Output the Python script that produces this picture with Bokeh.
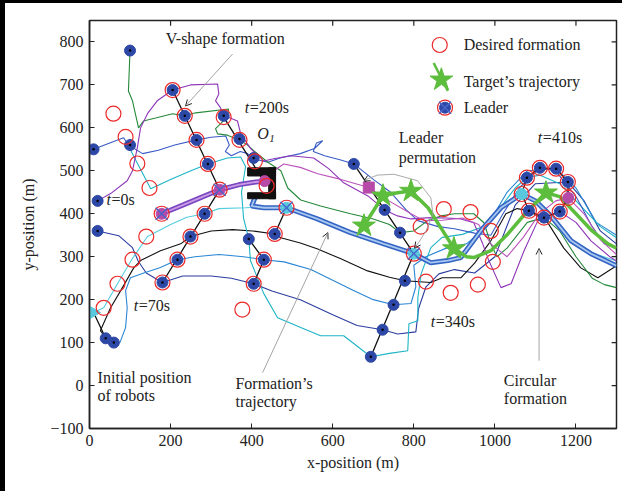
from bokeh.plotting import figure
from bokeh.models import Range1d, FixedTicker, Label, Arrow, OpenHead
from bokeh.embed import file_html
from bokeh.resources import INLINE

FONT = "Liberation Serif"

x_ticks = [0, 200, 400, 600, 800, 1000, 1200]
y_ticks = [-100, 0, 100, 200, 300, 400, 500, 600, 700, 800]

# ---------------- robot trajectories ----------------
purple_x = [20, 52, 93, 106, 118, 126, 143, 167, 205, 249, 316, 319, 311, 323, 333, 365, 373, 398, 430, 454, 496, 553, 590, 627, 689, 728, 760, 793, 842, 880, 916, 948, 970, 985, 1015, 1040, 1072, 1106, 1160, 1200, 1237, 1286, 1300]
purple_y = [430, 447, 477, 500, 554, 600, 633, 663, 688, 700, 702, 679, 663, 647, 628, 616, 586, 551, 523, 528, 535, 530, 505, 472, 440, 409, 395, 388, 391, 390, 388, 379, 330, 291, 228, 237, 314, 384, 405, 380, 337, 298, 290]

green_x = [100, 96, 106, 121, 133, 163, 205, 235, 262, 343, 340, 311, 316, 340, 370, 390, 405, 440, 472, 489, 521, 570, 644, 700, 740, 766, 800, 834, 867, 900, 948, 973, 990, 1005, 1030, 1080, 1121, 1160, 1200, 1240, 1270, 1300]
green_y = [780, 686, 663, 600, 616, 623, 633, 628, 635, 644, 625, 598, 586, 583, 572, 560, 547, 520, 500, 460, 432, 418, 400, 388, 375, 356, 360, 384, 395, 400, 400, 379, 330, 300, 320, 380, 391, 360, 300, 250, 235, 228]

blue_x = [10, 50, 84, 96, 131, 170, 210, 264, 300, 336, 345, 335, 350, 372, 390, 405, 440, 470, 520, 555, 575, 560, 552, 580, 620, 652, 700, 743, 780, 810, 860, 900, 950, 990, 1020, 1060, 1111, 1150, 1200, 1240, 1270, 1300]
blue_y = [550, 565, 577, 560, 540, 548, 560, 572, 578, 581, 560, 545, 535, 545, 540, 528, 520, 530, 540, 552, 570, 565, 545, 535, 525, 516, 480, 450, 410, 384, 370, 365, 355, 350, 400, 460, 507, 500, 440, 370, 330, 320]

cyan_x = [100, 103, 119, 151, 200, 250, 292, 340, 373, 385, 375, 380, 393, 397, 430, 464, 521, 570, 627, 694, 740, 785, 788, 810, 810, 818, 842, 870, 920, 970, 1010, 1050, 1079, 1110, 1160, 1210, 1260, 1300]
cyan_y = [560, 545, 516, 458, 480, 500, 516, 530, 532, 510, 450, 390, 341, 291, 214, 158, 135, 116, 116, 67, 75, 81, 144, 151, 205, 260, 321, 345, 352, 370, 410, 460, 484, 490, 470, 420, 370, 344]

magenta_x = [432, 455, 479, 520, 563, 620, 689, 726, 793, 825, 870, 920, 960, 990, 1030, 1070, 1110, 1150, 1181, 1220, 1260, 1300]
magenta_y = [476, 500, 516, 508, 493, 480, 461, 437, 400, 384, 385, 390, 375, 330, 300, 345, 400, 430, 437, 400, 340, 305]

lcyan_x = [10, 35, 69, 104, 143, 200, 240, 284, 319, 385, 435, 486, 562, 644, 726, 800, 842, 884, 916, 965, 1015, 1066, 1100, 1138, 1188, 1237, 1300]
lcyan_y = [170, 181, 237, 293, 347, 375, 392, 400, 412, 414, 416, 414, 390, 358, 332, 309, 290, 293, 300, 362, 416, 448, 432, 397, 340, 310, 290]

black_x = [40, 27, 52, 77, 109, 126, 175, 225, 249, 300, 353, 402, 457, 472, 520, 563, 620, 686, 740, 778, 842, 870, 916, 950, 990, 1027, 1055, 1084, 1130, 1170, 1212, 1254, 1300]
black_y = [110, 128, 181, 221, 274, 291, 314, 330, 347, 360, 363, 360, 353, 344, 332, 318, 295, 267, 252, 244, 240, 251, 251, 285, 337, 400, 412, 407, 380, 320, 274, 251, 279]

mblue_x = [60, 75, 89, 93, 89, 101, 134, 175, 217, 260, 320, 380, 430, 480, 546, 600, 650, 700, 750, 793, 805, 800, 830, 880, 930, 980, 1030, 1080, 1151, 1200, 1250, 1300]
mblue_y = [100, 100, 135, 181, 221, 251, 262, 275, 293, 300, 305, 300, 293, 288, 270, 245, 222, 200, 188, 191, 230, 280, 300, 320, 330, 370, 450, 500, 505, 460, 380, 350]

dblue_x = [20, 72, 106, 120, 140, 165, 180, 230, 300, 350, 405, 450, 520, 600, 660, 723, 760, 805, 812, 830, 862, 900, 950, 1000, 1050, 1100, 1180, 1220, 1260, 1300]
dblue_y = [360, 349, 321, 290, 262, 248, 240, 255, 255, 250, 237, 220, 200, 165, 140, 130, 120, 125, 180, 230, 260, 270, 262, 300, 420, 470, 474, 430, 360, 330]

# leader (thick) paths
lead1_x = [178, 230, 280, 321, 370, 410, 432]
lead1_y = [400, 420, 440, 456, 468, 474, 476]
form_x = [412, 400, 430, 486, 562, 644, 726, 800, 842, 884, 916, 965, 1015, 1066, 1100, 1138, 1188, 1237, 1300]
form_y = [446, 418, 414, 414, 388, 356, 330, 307, 286, 291, 298, 360, 414, 446, 430, 395, 337, 307, 279]

# target trajectory
target_line_x = [677, 724, 760, 793, 835, 867, 899, 930, 948, 990, 1032, 1081, 1126, 1160, 1200, 1240, 1279, 1300]
target_line_y = [372, 442, 449, 453, 414, 367, 319, 300, 298, 314, 353, 407, 449, 440, 400, 360, 330, 320]
star_x = [677, 724, 793, 899, 1126]
star_y = [372, 442, 453, 319, 449]

# formation snapshots (black connecting lines)
f0_x = [10, 40, 60]
f0_y = [170, 110, 100]
f70_x = [205, 321, 180]
f70_y = [688, 456, 240]
f200a_x = [331, 437]
f200a_y = [625, 465]
f200b_x = [486, 457]
f200b_y = [414, 353]
f200c_x = [393, 430, 405]
f200c_y = [341, 293, 237]
f340_x = [652, 800, 694]
f340_y = [516, 307, 67]
circ_x = [1079, 1111, 1151, 1180, 1181, 1160, 1121, 1084, 1066, 1079]
circ_y = [484, 507, 505, 474, 437, 405, 391, 407, 446, 484]

# desired formation positions (red circles)
des_x = [59, 89, 118, 148, 178, 140, 106, 69, 35,
         205, 235, 264, 292, 321, 284, 249, 217, 180,
         331, 370, 408, 437, 486, 457, 430, 405, 377,
         800, 817, 874, 940, 990, 995, 958, 891, 830,
         1079, 1111, 1151, 1180, 1181, 1160, 1121, 1084, 1066]
des_y = [633, 579, 517, 460, 400, 347, 293, 237, 181,
         688, 628, 572, 516, 456, 400, 347, 293, 240,
         625, 572, 522, 465, 414, 353, 293, 237, 177,
         307, 370, 411, 404, 360, 288, 235, 216, 242,
         484, 507, 505, 474, 437, 405, 391, 407, 446]

# robots (blue dots)
rob_x = [100, 10, 100, 20, 20, 40, 60,
         205, 235, 264, 292, 284, 249, 217, 180,
         331, 370, 405, 457, 430, 405, 393,
         652, 728, 766, 778, 750, 723, 694,
         1079, 1111, 1151, 1180, 1160, 1121, 1084]
rob_y = [780, 550, 560, 430, 360, 110, 100,
         688, 628, 572, 516, 400, 347, 293, 240,
         628, 574, 530, 353, 293, 237, 341,
         516, 409, 356, 244, 188, 130, 67,
         484, 507, 505, 474, 405, 391, 407]

lead_m_x = [178, 321, 432, 1181]
lead_m_y = [400, 456, 476, 437]
lead_c_x = [486, 800, 1066]
lead_c_y = [414, 307, 446]
cross_x = [178, 321, 486, 800]
cross_y = [400, 456, 414, 307]
square_x = [689]
square_y = [461]
tri_x = [10]
tri_y = [170]

# obstacle O1
obs_left = [390, 442, 390]
obs_right = [459, 459, 459]
obs_bottom = [488, 435, 435]
obs_top = [507, 507, 449]

# ---------------- figure ----------------
p = figure(width=622, height=491, x_range=Range1d(0, 1300), y_range=Range1d(-100, 850),
           output_backend="svg", toolbar_location=None,
           min_border_left=84, min_border_right=11, min_border_top=17, min_border_bottom=66)
p.styles = {"border-left": "5px solid black", "border-top": "3px solid black"}
p.grid.visible = False
p.outline_line_color = "#222222"
p.outline_line_width = 1.5
p.background_fill_color = "white"
p.border_fill_color = "white"

p.xaxis.ticker = FixedTicker(ticks=x_ticks)
p.yaxis.ticker = FixedTicker(ticks=y_ticks)
p.xaxis.axis_label = "x-position (m)"
p.yaxis.axis_label = "y-position (m)"
for ax in (p.xaxis[0], p.yaxis[0]):
    ax.major_label_text_font = FONT
    ax.major_label_text_font_size = "16px"
    ax.major_label_text_color = "#222222"
    ax.axis_label_text_font = FONT
    ax.axis_label_text_font_size = "16px"
    ax.axis_label_text_font_style = "normal"
    ax.axis_label_text_color = "#222222"
    ax.major_tick_in = 5
    ax.major_tick_out = 0
    ax.minor_tick_in = 0
    ax.minor_tick_out = 0
    ax.axis_line_color = "#222222"
    ax.axis_line_width = 1.5
    ax.major_tick_line_color = "#222222"
    ax.major_label_standoff = 6
p.xaxis.axis_label_standoff = 5
p.yaxis.axis_label_standoff = 10

# ticks on top and right frame edges
p.segment(x0=x_ticks, y0=[850] * len(x_ticks), x1=x_ticks, y1=[838] * len(x_ticks),
          line_color="#222222", line_width=1.2)
p.segment(x0=[1300] * len(y_ticks), y0=y_ticks, x1=[1288] * len(y_ticks), y1=y_ticks,
          line_color="#222222", line_width=1.2)

# trajectories
p.line(dblue_x, dblue_y, line_color="#2b3d9e", line_width=1.1)
p.line(mblue_x, mblue_y, line_color="#2a86d4", line_width=1.1)
p.line(black_x, black_y, line_color="#111111", line_width=1.1)
p.line(cyan_x, cyan_y, line_color="#1db4c6", line_width=1.1)
p.line(lcyan_x, lcyan_y, line_color="#56cde0", line_width=1.1)
p.line(blue_x, blue_y, line_color="#3a5cc6", line_width=1.1)
p.line(green_x, green_y, line_color="#25893a", line_width=1.1)
p.line(purple_x, purple_y, line_color="#8e35b8", line_width=1.1)
p.line(magenta_x, magenta_y, line_color="#bb52bb", line_width=1.1)

# thick leader / formation trajectories
p.line(form_x, form_y, line_color="#3565c4", line_width=5)
p.line(form_x, form_y, line_color="#a8c8f0", line_width=1.8)
p.line(lead1_x, lead1_y, line_color="#7a45c0", line_width=5)
p.line(lead1_x, lead1_y, line_color="#c79be6", line_width=1.8)

# target trajectory
p.line(target_line_x, target_line_y, line_color="#5dbd3d", line_width=3.5)

# formation lines
for fx, fy in [(f0_x, f0_y), (f70_x, f70_y), (f200a_x, f200a_y), (f200b_x, f200b_y),
               (f200c_x, f200c_y), (f340_x, f340_y), (circ_x, circ_y)]:
    p.line(fx, fy, line_color="#111111", line_width=1.3)

# obstacle
p.quad(left=obs_left, right=obs_right, bottom=obs_bottom, top=obs_top,
       fill_color="#111111", line_color="#111111")

# robots
p.scatter(rob_x, rob_y, marker="circle", size=11, fill_color="#2d48a6", line_color="#2d48a6")
p.scatter(rob_x, rob_y, marker="circle", size=2.5, fill_color="#000000", line_color=None)
p.scatter(lead_m_x, lead_m_y, marker="circle", size=11, fill_color="#b74aa8", line_color="#b74aa8")
p.scatter(lead_c_x, lead_c_y, marker="circle", size=11, fill_color="#5ac8dc", line_color="#5ac8dc")
p.scatter(square_x, square_y, marker="square", size=11, fill_color="#b74aa8", line_color="#b74aa8")
p.scatter(tri_x, tri_y, marker="triangle", angle=-1.5708, size=12, fill_color="#5ac8dc", line_color="#5ac8dc")

# desired formation
p.scatter(des_x, des_y, marker="circle", size=15, fill_color=None, line_color="#ec2a2a", line_width=1.2)
p.scatter(cross_x, cross_y, marker="x", size=17, line_color="#4766cc", line_width=1.4)

# target stars
p.scatter(star_x, star_y, marker="star", size=24, fill_color="#5dbd3d", line_color="#5dbd3d")

# legend (drawn manually)
p.scatter([864], [793], marker="circle", size=15, fill_color=None, line_color="#ec2a2a", line_width=1.2)
p.line([849, 884], [751, 686], line_color="#5dbd3d", line_width=2.5)
p.scatter([868], [712], marker="star", size=24, fill_color="#5dbd3d", line_color="#5dbd3d")
p.scatter([877], [647], marker="circle", size=11, fill_color="#2d48a6", line_color="#2d48a6")
p.scatter([877], [647], marker="circle", size=15, fill_color=None, line_color="#ec2a2a", line_width=1.2)
p.scatter([877], [647], marker="x", size=17, line_color="#4766cc", line_width=1.4)


def lab(x, y, text, size="16px", style="normal", align="left", xo=0, yo=0):
    p.add_layout(Label(x=x, y=y, text=text, text_font=FONT, text_font_size=size,
                       text_font_style=style, text_align=align, text_baseline="middle",
                       x_offset=xo, y_offset=yo, text_color="#222222"))


lab(923, 793, "Desired formation")
lab(923, 709, "Target\u2019s trajectory")
lab(923, 647, "Leader")

lab(188, 809, "V-shape formation")
lab(383, 647, "t", style="italic")
lab(383, 647, "=200s", xo=5)
lab(414, 586, "O", style="italic")
lab(414, 586, "1", size="11px", style="italic", xo=12, yo=-5)
lab(42, 433, "t", style="italic")
lab(42, 433, "=0s", xo=5)
lab(109, 186, "t", style="italic")
lab(109, 186, "=70s", xo=5)
lab(842, 149, "t", style="italic")
lab(842, 149, "=340s", xo=5)
lab(1106, 577, "t", style="italic")
lab(1106, 577, "=410s", xo=5)
lab(763, 577, "Leader")
lab(763, 530, "permutation")
lab(20, 19, "Initial position")
lab(20, -23, "of robots")
lab(360, 5, "Formation\u2019s")
lab(360, -37, "trajectory")
lab(1022, 12, "Circular")
lab(1022, -30, "formation")


def arrow(x0, y0, x1, y1):
    p.add_layout(Arrow(end=OpenHead(size=6, line_width=1, line_color="#222222"),
                       x_start=x0, y_start=y0, x_end=x1, y_end=y1,
                       line_color="#9a9a9a", line_width=0.9))


arrow(353, 772, 237, 651)
arrow(427, 30, 588, 356)
arrow(1109, 58, 1109, 319)
arc_x = [688, 710, 751, 809, 842, 847, 830, 812]
arc_y = [482, 490, 492, 477, 437, 400, 360, 333]
p.line(arc_x, arc_y, line_color="#a0a0a0", line_width=0.9)
arrow(688, 482, 677, 476)
arrow(812, 333, 802, 320)

open("out.html", "w").write(file_html(p, INLINE))
